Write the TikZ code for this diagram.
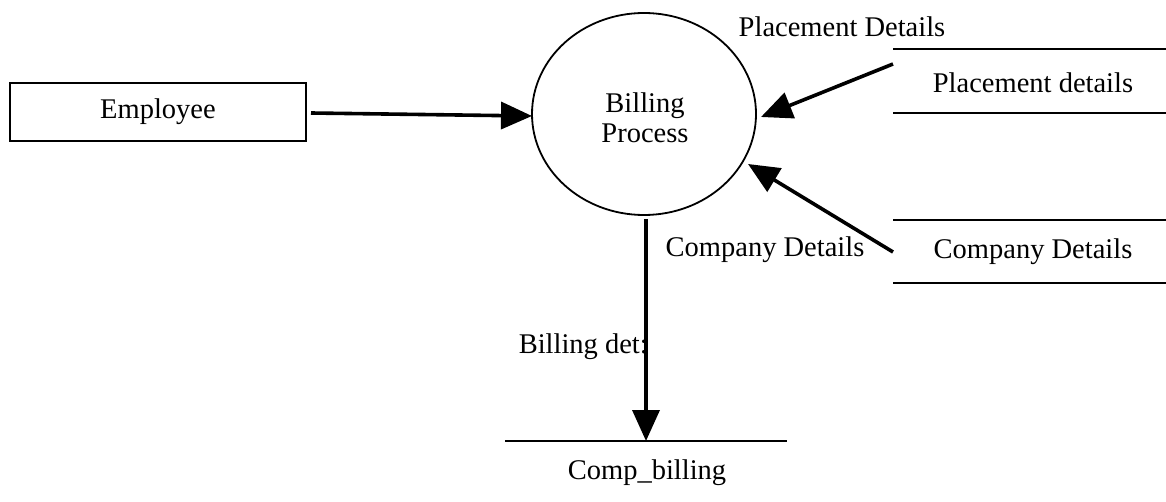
\documentclass[tikz,border=0pt]{standalone}
\usepackage{fontspec}
\setmainfont{Liberation Serif}
\usetikzlibrary{shapes.geometric,arrows.meta}
\begin{document}
\begin{tikzpicture}[x=1pt,y=-1pt,
  every node/.style={font=\fontsize{28.5}{30}\selectfont, inner sep=0pt},
  entity/.style={draw, line width=2.6pt, minimum width=296pt, minimum height=58pt},
  procbub/.style={draw, ellipse, line width=1.8pt, minimum width=224pt, minimum height=202pt, align=center},
  storeline/.style={line width=2.2pt},
  flow/.style={line width=3.6pt, -{Triangle[length=31pt,width=27pt]}},
  lbl/.style={}]
\useasboundingbox (0,0) rectangle (1166,502);
% nodes
\node[entity] (emp) at (158,112) {Employee};
\node[procbub] (bp) at (644,114) {};
\node (bpt) at (645,118) [align=center] {Billing\\Process};
% stores
\node (pd) at (1033,83) {Placement details};
\node (cd) at (1033,252) {Company Details};
\node (cb) at (647,473) {Comp\_billing};
\coordinate (pdTL) at (893,49);
\coordinate (pdTR) at (1166,49);
\coordinate (pdBL) at (893,113);
\coordinate (pdBR) at (1166,113);
\coordinate (cdTL) at (893,220);
\coordinate (cdTR) at (1166,220);
\coordinate (cdBL) at (893,283);
\coordinate (cdBR) at (1166,283);
\coordinate (cbL) at (505,441);
\coordinate (cbR) at (787,441);
\draw[storeline] (pdTL) -- (pdTR);
\draw[storeline] (pdBL) -- (pdBR);
\draw[storeline] (cdTL) -- (cdTR);
\draw[storeline] (cdBL) -- (cdBR);
\draw[storeline] (cbL) -- (cbR);
% flows
\coordinate (e1) at (311,113);
\coordinate (e2) at (532,116);
\draw[flow] (e1) -- (e2);
\coordinate (p1) at (893,64);
\coordinate (p2) at (761,117);
\draw[flow] (p1) -- (p2);
\coordinate (c1) at (893,252);
\coordinate (c2) at (748,164);
\draw[flow] (c1) -- (c2);
\coordinate (b1) at (646,219);
\coordinate (b2) at (646,441);
\draw[flow] (b1) -- (b2);
% labels
\node[lbl] (lpd) at (842,27) {Placement Details};
\node[lbl] (lcd) at (765,250) {Company Details};
\node[lbl, anchor=east] (lbd) at (648,347) {Billing det:};
\end{tikzpicture}
\end{document}
